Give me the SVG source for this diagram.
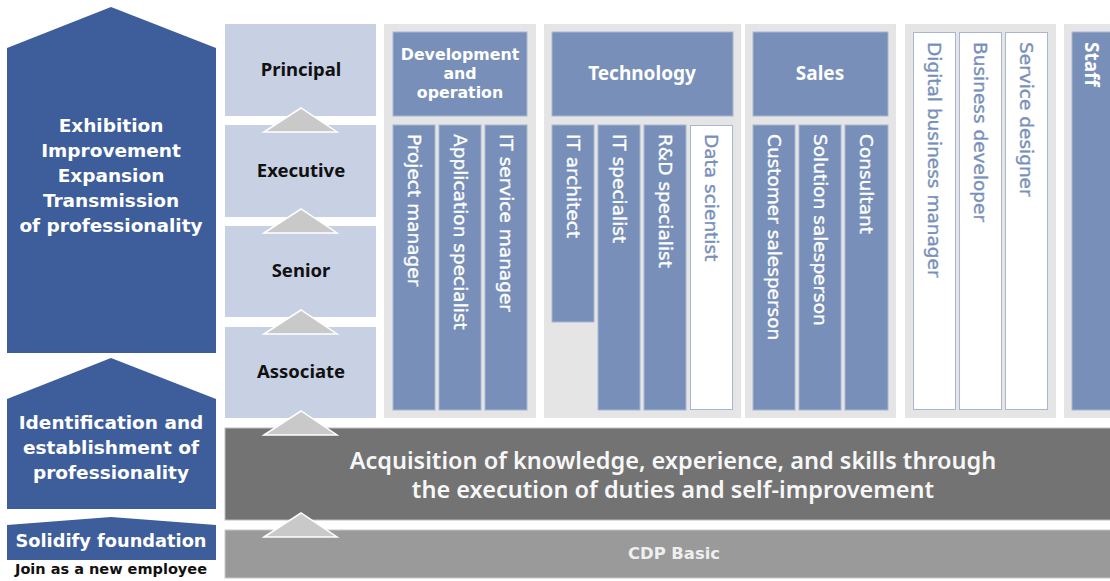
<svg xmlns="http://www.w3.org/2000/svg" width="1110" height="581" viewBox="0 0 1110 581">
<defs>
<style>
.arrow{fill:#3e5e9b}
.atxt{font-family:"DejaVu Sans",Verdana,sans-serif;font-weight:bold;font-size:18.5px;fill:#fff;text-anchor:middle}
.lvl{fill:#c8d0e3}
.ltxt{font-family:"Noto Sans","Open Sans",sans-serif;font-weight:bold;font-size:18.5px;fill:#111;text-anchor:middle}
.panel{fill:#e5e5e5}
.blue{fill:#7890b9;stroke:#a7b6d2;stroke-width:1}
.white{fill:#fff;stroke:#a7b6d2;stroke-width:1}
.htxt{font-family:"Noto Sans","Open Sans",sans-serif;font-weight:bold;font-size:19px;fill:#fff;text-anchor:middle}
.dtxt{font-family:"DejaVu Sans",Verdana,sans-serif;font-weight:bold;font-size:15.8px;fill:#fff;text-anchor:middle}
.vw{font-family:"DejaVu Sans",Verdana,sans-serif;font-size:18.5px;fill:#fff;stroke:#fff;stroke-width:0.35}
.vb{font-family:"DejaVu Sans",Verdana,sans-serif;font-size:18.5px;fill:#7890b9;stroke:#7890b9;stroke-width:0.35}
.tri{fill:#c9c9c9;stroke:#fff;stroke-width:1.5}
</style>
</defs>
<rect width="1110" height="581" fill="#fff"/>

<g id="left-arrows">
<g id="arrow-top">
<polygon class="arrow" points="7,48 111,7 216,48 216,353 7,353"/>
<text class="atxt" x="111" y="132">Exhibition</text>
<text class="atxt" x="111" y="157">Improvement</text>
<text class="atxt" x="111" y="182">Expansion</text>
<text class="atxt" x="111" y="207">Transmission</text>
<text class="atxt" x="111" y="232">of professionality</text>
</g>
<g id="arrow-mid">
<polygon class="arrow" points="7,399 111,358 216,399 216,509 7,509"/>
<text class="atxt" x="111" y="429">Identification and</text>
<text class="atxt" x="111" y="454">establishment of</text>
<text class="atxt" x="111" y="479">professionality</text>
</g>
<g id="arrow-bottom">
<polygon class="arrow" points="7,525 111,517 216,525 216,560 7,560"/>
<text class="atxt" x="111" y="547" style="font-size:17.8px">Solidify foundation</text>
</g>
<text id="join" x="111" y="574" style="font-family:'DejaVu Sans',Verdana,sans-serif;font-weight:bold;font-size:14.5px;fill:#111;text-anchor:middle">Join as a new employee</text>
</g>

<g id="levels">
<g id="principal"><rect class="lvl" x="225" y="24" width="151" height="92"/><text class="ltxt" x="301" y="76">Principal</text></g>
<g id="executive"><rect class="lvl" x="225" y="125" width="151" height="92"/><text class="ltxt" x="301" y="177">Executive</text></g>
<g id="senior"><rect class="lvl" x="225" y="226" width="151" height="91"/><text class="ltxt" x="301" y="277">Senior</text></g>
<g id="associate"><rect class="lvl" x="225" y="327" width="151" height="91"/><text class="ltxt" x="301" y="378">Associate</text></g>
</g>

<g id="dev">
<rect class="panel" x="384" y="24" width="152" height="394"/>
<rect class="blue" x="393" y="32" width="134" height="84"/>
<text class="dtxt" x="460" y="60">Development</text>
<text class="dtxt" x="460" y="79">and</text>
<text class="dtxt" x="460" y="98">operation</text>
<rect class="blue" x="393" y="125" width="42" height="285"/>
<rect class="blue" x="439" y="125" width="42" height="285"/>
<rect class="blue" x="485" y="125" width="42" height="285"/>
<text class="vw" transform="translate(408,134) rotate(90)">Project manager</text>
<text class="vw" transform="translate(454,134) rotate(90)">Application specialist</text>
<text class="vw" transform="translate(500,134) rotate(90)">IT service manager</text>
</g>

<g id="tech">
<rect class="panel" x="544" y="24" width="197" height="394"/>
<rect class="blue" x="552" y="32" width="181" height="84"/>
<text class="htxt" x="642" y="80">Technology</text>
<rect class="blue" x="552" y="125" width="42" height="197"/>
<rect class="blue" x="598" y="125" width="42" height="285"/>
<rect class="blue" x="644" y="125" width="42" height="285"/>
<rect class="white" x="690.5" y="125.5" width="42" height="284"/>
<text class="vw" transform="translate(567,134) rotate(90)">IT architect</text>
<text class="vw" transform="translate(613,134) rotate(90)">IT specialist</text>
<text class="vw" transform="translate(659,134) rotate(90)">R&amp;D specialist</text>
<text class="vb" transform="translate(705,134) rotate(90)">Data scientist</text>
</g>

<g id="sales">
<rect class="panel" x="745" y="24" width="151" height="394"/>
<rect class="blue" x="753" y="32" width="135" height="84"/>
<text class="htxt" x="820" y="80">Sales</text>
<rect class="blue" x="753" y="125" width="42" height="285"/>
<rect class="blue" x="799" y="125" width="42" height="285"/>
<rect class="blue" x="845" y="125" width="43" height="285"/>
<text class="vw" transform="translate(768,134) rotate(90)">Customer salesperson</text>
<text class="vw" transform="translate(814,134) rotate(90)">Solution salesperson</text>
<text class="vw" transform="translate(860,134) rotate(90)">Consultant</text>
</g>

<g id="digital">
<rect class="panel" x="905" y="24" width="151" height="394"/>
<rect class="white" x="913.5" y="32.5" width="42" height="377"/>
<rect class="white" x="959.5" y="32.5" width="42" height="377"/>
<rect class="white" x="1005.5" y="32.5" width="42" height="377"/>
<text class="vb" transform="translate(928,42) rotate(90)">Digital business manager</text>
<text class="vb" transform="translate(974,42) rotate(90)">Business developer</text>
<text class="vb" transform="translate(1020,42) rotate(90)">Service designer</text>
</g>

<g id="staff">
<rect class="panel" x="1064" y="24" width="50" height="394"/>
<rect class="blue" x="1072" y="32" width="42" height="378"/>
<text transform="translate(1085,42) rotate(90)" style="font-family:'Noto Sans','Open Sans',sans-serif;font-weight:bold;font-size:19px;fill:#fff">Staff</text>
</g>

<g id="acquisition">
<rect x="225" y="428" width="890" height="92" fill="#737373" stroke="#bdbdbd" stroke-width="1"/>
<text x="673" y="469" style="font-family:'Noto Sans','Open Sans',sans-serif;font-weight:600;font-size:23.5px;fill:#f7f7f7;text-anchor:middle">Acquisition of knowledge, experience, and skills through</text>
<text x="673" y="498" style="font-family:'Noto Sans','Open Sans',sans-serif;font-weight:600;font-size:23.5px;fill:#f7f7f7;text-anchor:middle">the execution of duties and self-improvement</text>
</g>

<g id="cdp-basic">
<rect x="225" y="530" width="890" height="48" fill="#9a9a9a" stroke="#c8c8c8" stroke-width="1"/>
<text x="674" y="559" style="font-family:'DejaVu Sans',Verdana,sans-serif;font-weight:bold;font-size:16.4px;fill:#efefef;text-anchor:middle">CDP Basic</text>
</g>

<g id="connectors">
<polygon class="tri" points="264,132 301,108 337,132"/>
<polygon class="tri" points="264,233 301,209 337,233"/>
<polygon class="tri" points="264,334 301,310 337,334"/>
<polygon class="tri" points="264,435 301,411 337,435"/>
<polygon class="tri" points="264,537 301,513 337,537"/>
</g>
</svg>
